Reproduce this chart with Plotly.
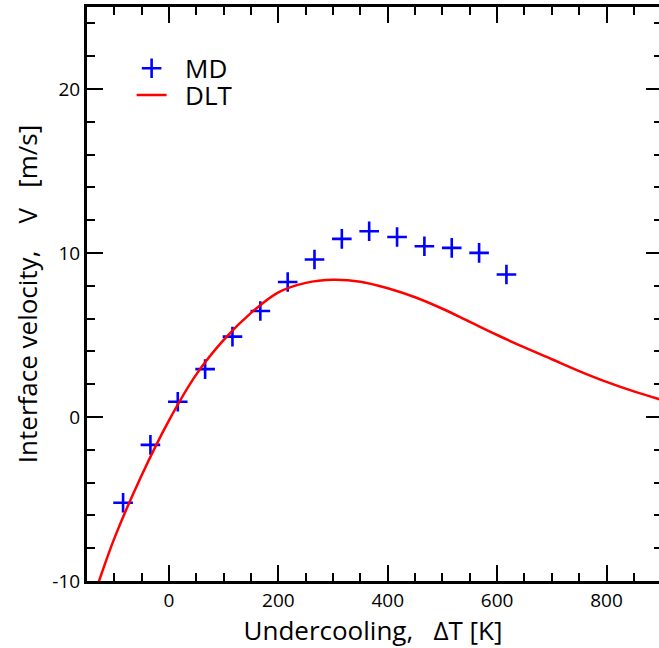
import plotly.graph_objects as go

# MD data (undercooling in K, velocity in m/s)
md_dT = [-84, -34, 16, 66, 116, 167, 217, 266, 316, 366, 417, 467, 517, 567, 617]
md_V = [-5.23, -1.70, 0.93, 2.92, 4.90, 6.46, 8.23, 9.60, 10.86, 11.33, 10.98, 10.41, 10.31, 10.01, 8.69]

# DLT curve
dlt_dT = [-135, -128, -100, -50, 0, 50, 100, 150, 200, 250, 300, 350, 400, 450, 500, 550, 600, 650, 700, 750, 800, 850, 900]
dlt_V = [-10.7, -10.0, -7.4, -3.55, -0.2, 2.6, 4.7, 6.35, 7.6, 8.18, 8.37, 8.25, 7.85, 7.3, 6.6, 5.8, 5.0, 4.24, 3.52, 2.8, 2.14, 1.56, 1.05]

x_ticks = [0, 200, 400, 600, 800]
x_tick_labels = ["0", "200", "400", "600", "800"]
y_ticks = [-10, 0, 10, 20]
y_tick_labels = ["-10", "0", "10", "20"]

FONT = "Open Sans"
X_RANGE = [-150, 896]
Y_RANGE = [-10, 25]
NB = "\u00a0"

fig = go.Figure()
fig.add_trace(go.Scatter(
    x=md_dT, y=md_V, mode="markers", name=NB * 2 + "MD", legend="legend",
    marker=dict(symbol="cross-thin", size=14, color="#0000ff",
                line=dict(width=2.6, color="#0000ff")),
))
fig.add_trace(go.Scatter(
    x=dlt_dT, y=dlt_V, mode="lines", name=NB * 2 + "DLT", legend="legend2",
    line=dict(color="#ff0000", width=2.5, shape="spline", smoothing=1.0),
))
# invisible trace to activate mirrored tick axes
fig.add_trace(go.Scatter(
    x=md_dT, y=md_V, mode="markers", xaxis="x2", yaxis="y2",
    marker=dict(opacity=0), showlegend=False, hoverinfo="skip",
))

tickfont = dict(family=FONT, size=19, color="black")
legfont = dict(family=FONT, size=26, color="black")
fig.update_layout(
    width=659, height=648,
    margin=dict(l=87, r=0, t=7, b=67),
    paper_bgcolor="white", plot_bgcolor="white",
    showlegend=True,
    legend=dict(x=0.078, y=0.934, xanchor="left", yanchor="top",
                font=legfont, bgcolor="rgba(0,0,0,0)"),
    legend2=dict(x=0.078, y=0.8875, xanchor="left", yanchor="top",
                 font=legfont, bgcolor="rgba(0,0,0,0)"),
    xaxis=dict(
        range=X_RANGE, showgrid=False, zeroline=False,
        showline=True, linecolor="black", linewidth=3,
        ticks="inside", ticklen=16, tickwidth=2, tickcolor="black",
        tickvals=x_ticks, ticktext=x_tick_labels, tickfont=tickfont,
        minor=dict(ticks="inside", ticklen=8, tickwidth=2, tickcolor="black", dtick=50, tick0=0, showgrid=False),
        title=dict(text="Undercooling," + NB * 3 + "ΔT [K]", font=dict(family=FONT, size=26, color="black"), standoff=2),
    ),
    yaxis=dict(
        range=Y_RANGE, showgrid=False, zeroline=False,
        showline=True, linecolor="black", linewidth=3,
        ticks="inside", ticklen=16, tickwidth=2, tickcolor="black",
        tickvals=y_ticks, ticktext=y_tick_labels, tickfont=tickfont,
        minor=dict(ticks="inside", ticklen=8, tickwidth=2, tickcolor="black", dtick=2, tick0=0, showgrid=False),
        title=dict(text="Interface velocity," + NB * 4 + "V" + NB * 3 + "[m/s]", font=dict(family=FONT, size=26, color="black"), standoff=8),
    ),
    xaxis2=dict(
        overlaying="x", side="top", matches="x", anchor="y",
        range=X_RANGE, showgrid=False, zeroline=False,
        showline=True, linecolor="black", linewidth=3,
        ticks="inside", ticklen=16, tickwidth=2, tickcolor="black",
        tickvals=x_ticks, showticklabels=False,
        minor=dict(ticks="inside", ticklen=8, tickwidth=2, tickcolor="black", dtick=50, tick0=0, showgrid=False),
    ),
    yaxis2=dict(
        overlaying="y", side="right", matches="y", anchor="x",
        range=Y_RANGE, showgrid=False, zeroline=False, showline=False,
        ticks="inside", ticklen=13, tickwidth=2, tickcolor="black",
        tickvals=y_ticks, showticklabels=False,
        minor=dict(ticks="inside", ticklen=5, tickwidth=2, tickcolor="black", dtick=2, tick0=0, showgrid=False),
    ),
)

fig.write_html("out.html", config={"displayModeBar": False},
               post_script="document.body.style.margin='0px';")
